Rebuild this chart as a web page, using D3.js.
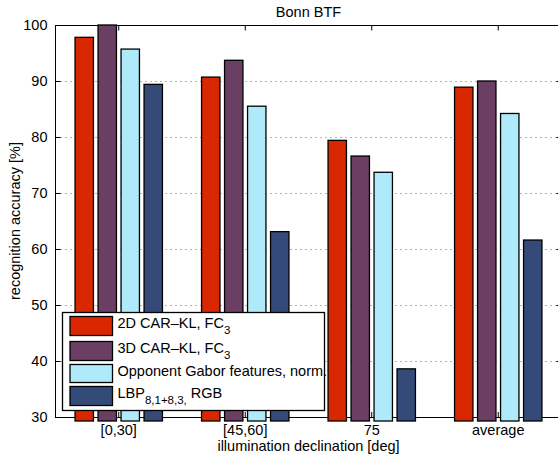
<!DOCTYPE html>
<html>
<head>
<meta charset="utf-8">
<script src="https://cdn.jsdelivr.net/npm/d3@7"></script>
<style>
  body { margin: 0; background: #fff; }
  svg { display: block; font-family: "Liberation Sans", Arial, sans-serif; }
</style>
</head>
<body>
<svg id="canvas"></svg>
<script>
// chart data
let categories = ['[0,30]', '[45,60]', '75', 'average']
let seriesNames = ['2D CAR-KL', '3D CAR-KL', 'Opponent Gabor', 'LBP']
let car2d = [97.8, 90.7, 79.4, 88.9]
let car3d = [100.0, 93.7, 76.6, 90.0]
let gabor = [95.7, 85.5, 73.7, 84.2]
let lbp = [89.4, 63.1, 38.6, 61.6]
let yTicks = [30, 40, 50, 60, 70, 80, 90, 100]

const width = 558
const height = 461
const plotLeft = 55.5
const plotRight = 561.5
const plotTop = 25
const plotBottom = 417
const fs = 14.5

const colors = ['#d92800', '#6b3f63', '#aeeaf9', '#344b7a']

let canvas = d3.select('#canvas')
canvas.attr('width', width).attr('height', height)

let xScale = d3.scaleBand().domain(categories).range([plotLeft, plotRight])
let step = xScale.bandwidth()
let groupW = step * 4 / 5.5
let inner = d3.scaleBand().domain(seriesNames)
    .range([(step - groupW) / 2, (step + groupW) / 2])
    .paddingInner(0.2).paddingOuter(0.1)
let yScale = d3.scaleLinear().domain([30, 100]).range([plotBottom, plotTop])

// dotted grid
canvas.append('g').selectAll('line')
    .data(yTicks)
    .enter()
    .append('line')
    .attr('x1', plotLeft).attr('x2', plotRight)
    .attr('y1', d => Math.round(yScale(d)) + 0.5)
    .attr('y2', d => Math.round(yScale(d)) + 0.5)
    .attr('stroke', '#666')
    .attr('stroke-width', 1)
    .attr('stroke-dasharray', '1,4')

// axes box
canvas.append('rect')
    .attr('x', plotLeft).attr('y', plotTop + 0.5)
    .attr('width', plotRight - plotLeft).attr('height', plotBottom - plotTop)
    .attr('fill', 'none').attr('stroke', '#000').attr('stroke-width', 1)

// y axis
let yAxis = d3.axisLeft(yScale).tickValues(yTicks).tickSize(-5).tickPadding(8)
let gy = canvas.append('g').attr('transform', 'translate(' + plotLeft + ',0)').call(yAxis)
gy.select('.domain').remove()
gy.selectAll('text').attr('font-size', fs).attr('fill', '#000').attr('font-family', 'Liberation Sans, Arial, sans-serif')
let yAxisR = d3.axisRight(yScale).tickValues(yTicks).tickSize(-5).tickFormat('')
let gyr = canvas.append('g').attr('transform', 'translate(' + plotRight + ',0)').call(yAxisR)
gyr.select('.domain').remove()

// x ticks top
let xTop = d3.axisTop(xScale).tickSize(-5).tickFormat('')
let gxt = canvas.append('g').attr('transform', 'translate(0,' + (plotTop + 0.5) + ')').call(xTop)
gxt.select('.domain').remove()

// bars
let series = [car2d, car3d, gabor, lbp]
let groups = canvas.selectAll('.grp')
    .data(categories)
    .enter()
    .append('g')
    .attr('class', 'grp')
    .attr('transform', d => 'translate(' + xScale(d) + ',0)')

groups.selectAll('rect')
    .data((c, i) => seriesNames.map((s, j) => ({ s: s, v: series[j][i], c: colors[j] })))
    .enter()
    .append('rect')
    .attr('x', d => inner(d.s))
    .attr('y', d => yScale(d.v))
    .attr('width', inner.bandwidth())
    .attr('height', d => plotBottom + 4 - yScale(d.v))
    .attr('fill', d => d.c)
    .attr('stroke', '#000')
    .attr('stroke-width', 1.3)

// x ticks bottom
let xBot = d3.axisBottom(xScale).tickSize(-5).tickPadding(0)
let gxb = canvas.append('g').attr('transform', 'translate(0,' + plotBottom + ')').call(xBot)
gxb.select('.domain').remove()
gxb.selectAll('text').attr('font-size', fs).attr('fill', '#000')
    .attr('dy', null).attr('y', 18)
    .attr('font-family', 'Liberation Sans, Arial, sans-serif')

// labels
canvas.append('text').attr('x', (plotLeft + plotRight) / 2).attr('y', 17)
    .attr('text-anchor', 'middle').attr('font-size', fs).text('Bonn BTF')
canvas.append('text').attr('x', (plotLeft + plotRight) / 2).attr('y', 451)
    .attr('text-anchor', 'middle').attr('font-size', fs).text('illumination declination [deg]')
canvas.append('text')
    .attr('transform', 'translate(19.5,' + (plotTop + plotBottom) / 2 + ') rotate(-90)')
    .attr('text-anchor', 'middle').attr('font-size', fs).text('recognition accuracy [%]')

// legend
let legend = canvas.append('g')
legend.append('rect')
    .attr('x', 62.5).attr('y', 312.5).attr('width', 262).attr('height', 98)
    .attr('fill', '#fff').attr('stroke', '#000').attr('stroke-width', 1.3)

let legendRows = [
    { main: '2D CAR\u2013KL, FC', sub: '3', tail: '' },
    { main: '3D CAR\u2013KL, FC', sub: '3', tail: '' },
    { main: 'Opponent Gabor features, norm.', sub: '', tail: '' },
    { main: 'LBP', sub: '8,1+8,3,', tail: ' RGB' }
]
let rowY = [316.5, 341.5, 364.5, 386.5]
let rowH = [19, 19, 18, 19]

legendRows.forEach((r, i) => {
    legend.append('rect')
        .attr('x', 70).attr('y', rowY[i]).attr('width', 42.5).attr('height', rowH[i])
        .attr('fill', colors[i]).attr('stroke', '#000').attr('stroke-width', 1.3)
    let t = legend.append('text').attr('x', 117.5).attr('y', rowY[i] + 11).attr('font-size', fs)
    t.append('tspan').text(r.main)
    if (r.sub) {
        t.append('tspan').attr('dy', 6).attr('font-size', 11.5).text(r.sub)
    }
    if (r.tail) {
        t.append('tspan').attr('dy', -6).text(r.tail)
    }
})
</script>
</body>
</html>
